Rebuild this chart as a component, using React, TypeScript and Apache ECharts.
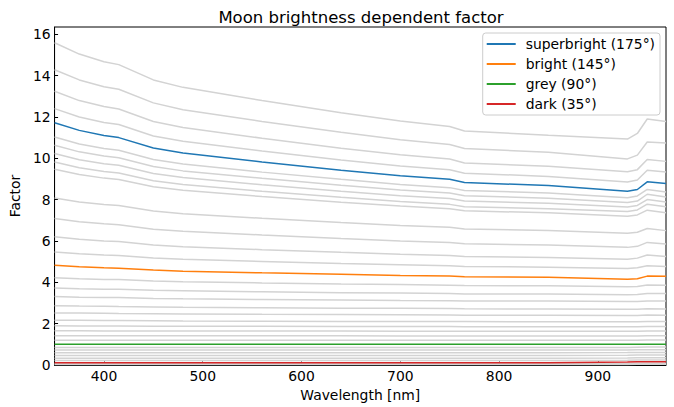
import React, { useEffect, useRef } from "react";
import * as echarts from "echarts";

// Wavelength grid (nm) shared by every curve
const wavelengths = [350, 375, 400, 415, 450, 480, 560, 640, 700, 750, 765, 850, 930, 940, 950, 969];

// Highlighted curves
const superbright = [11.72, 11.35, 11.10, 11.00, 10.50, 10.25, 9.82, 9.42, 9.15, 8.98, 8.83, 8.68, 8.41, 8.49, 8.86, 8.78];
const bright = [4.82, 4.75, 4.70, 4.68, 4.59, 4.54, 4.46, 4.39, 4.33, 4.30, 4.27, 4.25, 4.15, 4.17, 4.30, 4.29];
const grey = [1.00, 1.00, 1.00, 1.00, 1.00, 1.00, 1.00, 1.00, 1.00, 1.00, 1.00, 1.00, 1.00, 1.00, 1.00, 1.00];
const dark = [0.11, 0.11, 0.11, 0.11, 0.11, 0.11, 0.11, 0.11, 0.11, 0.11, 0.11, 0.11, 0.14, 0.16, 0.16, 0.16];

// Background (other angles) curves
const g01 = [15.59, 15.04, 14.67, 14.53, 13.79, 13.43, 12.79, 12.20, 11.80, 11.54, 11.32, 11.11, 10.93, 11.20, 11.90, 11.78];
const g02 = [14.28, 13.79, 13.46, 13.34, 12.68, 12.35, 11.78, 11.26, 10.90, 10.67, 10.47, 10.29, 9.97, 10.15, 10.79, 10.74];
const g03 = [13.24, 12.79, 12.50, 12.38, 11.78, 11.49, 10.97, 10.49, 10.17, 9.96, 9.77, 9.61, 9.35, 9.45, 9.94, 9.85];
const g04 = [12.40, 12.00, 11.73, 11.63, 11.08, 10.82, 10.35, 9.92, 9.63, 9.44, 9.28, 9.12, 8.85, 8.95, 9.42, 9.34];
const g05 = [11.03, 10.69, 10.47, 10.39, 9.94, 9.72, 9.33, 8.98, 8.73, 8.58, 8.44, 8.32, 8.09, 8.18, 8.49, 8.37];
const g06 = [10.63, 10.31, 10.11, 10.03, 9.60, 9.39, 9.03, 8.69, 8.46, 8.32, 8.19, 8.07, 7.86, 7.93, 8.26, 8.13];
const g07 = [10.23, 9.93, 9.74, 9.66, 9.26, 9.07, 8.72, 8.40, 8.19, 8.05, 7.93, 7.82, 7.64, 7.72, 8.00, 7.89];
const g08 = [9.82, 9.54, 9.36, 9.29, 8.91, 8.73, 8.40, 8.11, 7.91, 7.77, 7.66, 7.56, 7.42, 7.50, 7.78, 7.65];
const g09 = [9.47, 9.21, 9.04, 8.97, 8.62, 8.45, 8.15, 7.87, 7.69, 7.56, 7.46, 7.36, 7.19, 7.26, 7.49, 7.36];
const g10 = [8.08, 7.89, 7.76, 7.71, 7.45, 7.32, 7.10, 6.89, 6.75, 6.66, 6.58, 6.51, 6.37, 6.42, 6.60, 6.50];
const g11 = [7.09, 6.93, 6.83, 6.79, 6.57, 6.47, 6.29, 6.12, 6.00, 5.93, 5.86, 5.80, 5.69, 5.74, 5.93, 5.85];
const g12 = [6.20, 6.08, 6.00, 5.97, 5.80, 5.72, 5.58, 5.45, 5.36, 5.30, 5.25, 5.20, 5.12, 5.17, 5.32, 5.25];
const g13 = [5.47, 5.38, 5.32, 5.30, 5.17, 5.11, 5.01, 4.91, 4.85, 4.80, 4.77, 4.73, 4.67, 4.70, 4.80, 4.76];
const g14 = [4.22, 4.17, 4.14, 4.13, 4.06, 4.03, 3.97, 3.92, 3.89, 3.86, 3.84, 3.83, 3.79, 3.80, 3.87, 3.86];
const g15 = [3.73, 3.69, 3.67, 3.66, 3.61, 3.59, 3.54, 3.50, 3.48, 3.46, 3.44, 3.43, 3.40, 3.41, 3.46, 3.46];
const g16 = [3.31, 3.28, 3.26, 3.26, 3.22, 3.20, 3.17, 3.14, 3.12, 3.11, 3.10, 3.09, 3.07, 3.07, 3.10, 3.09];
const g17 = [2.87, 2.85, 2.84, 2.83, 2.81, 2.79, 2.77, 2.75, 2.74, 2.73, 2.72, 2.71, 2.70, 2.70, 2.72, 2.71];
const g18 = [2.52, 2.51, 2.50, 2.49, 2.48, 2.47, 2.45, 2.44, 2.43, 2.42, 2.41, 2.41, 2.40, 2.40, 2.42, 2.41];
const g19 = [2.17, 2.16, 2.15, 2.15, 2.14, 2.13, 2.12, 2.11, 2.11, 2.10, 2.10, 2.09, 2.09, 2.09, 2.11, 2.10];
const g20 = [1.90, 1.89, 1.89, 1.89, 1.88, 1.88, 1.87, 1.86, 1.86, 1.86, 1.85, 1.85, 1.85, 1.85, 1.86, 1.86];
const g21 = [1.66, 1.66, 1.65, 1.65, 1.65, 1.65, 1.64, 1.64, 1.63, 1.63, 1.63, 1.63, 1.63, 1.63, 1.64, 1.64];
const g22 = [1.42, 1.42, 1.42, 1.42, 1.41, 1.41, 1.41, 1.41, 1.40, 1.40, 1.40, 1.40, 1.40, 1.40, 1.41, 1.41];
const g23 = [1.20, 1.20, 1.20, 1.20, 1.20, 1.20, 1.20, 1.20, 1.20, 1.20, 1.20, 1.20, 1.20, 1.20, 1.21, 1.21];
const g24 = [0.85, 0.85, 0.85, 0.85, 0.85, 0.85, 0.85, 0.85, 0.85, 0.85, 0.85, 0.85, 0.85, 0.86, 0.87, 0.87];
const g25 = [0.72, 0.72, 0.72, 0.72, 0.72, 0.72, 0.72, 0.72, 0.72, 0.72, 0.72, 0.72, 0.73, 0.74, 0.74, 0.74];
const g26 = [0.59, 0.59, 0.59, 0.59, 0.59, 0.59, 0.59, 0.59, 0.59, 0.59, 0.59, 0.59, 0.60, 0.61, 0.61, 0.61];
const g27 = [0.46, 0.46, 0.46, 0.46, 0.46, 0.46, 0.46, 0.46, 0.46, 0.46, 0.46, 0.46, 0.47, 0.48, 0.48, 0.48];
const g28 = [0.33, 0.33, 0.33, 0.33, 0.33, 0.33, 0.33, 0.33, 0.33, 0.33, 0.33, 0.33, 0.34, 0.35, 0.35, 0.35];
const g29 = [0.22, 0.22, 0.22, 0.22, 0.22, 0.22, 0.22, 0.22, 0.22, 0.22, 0.22, 0.22, 0.23, 0.24, 0.24, 0.24];
const g30 = [0.06, 0.06, 0.06, 0.06, 0.06, 0.06, 0.06, 0.06, 0.06, 0.06, 0.06, 0.06, 0.07, 0.08, 0.08, 0.08];
const g31 = [0.03, 0.03, 0.03, 0.03, 0.03, 0.03, 0.03, 0.03, 0.03, 0.03, 0.03, 0.03, 0.03, 0.04, 0.04, 0.04];

const greyLines = [g01, g02, g03, g04, g05, g06, g07, g08, g09, g10, g11, g12, g13, g14, g15, g16,
  g17, g18, g19, g20, g21, g22, g23, g24, g25, g26, g27, g28, g29, g30, g31];

const highlightNames = ["superbright (175°)", "bright (145°)", "grey (90°)", "dark (35°)"];
const highlightValues = [superbright, bright, grey, dark];
const highlightColors = ["#1f77b4", "#ff7f0e", "#2ca02c", "#d62728"];

const xTicks = [400, 500, 600, 700, 800, 900];
const yTicks = [0, 2, 4, 6, 8, 10, 12, 14, 16];

const FONT = "DejaVu Sans";

export default function App() {
  const ref = useRef<HTMLDivElement>(null);

  useEffect(() => {
    const chart = echarts.init(ref.current!, null, { renderer: "svg" });
    const toPts = (vals: number[]) => wavelengths.map((w, i) => [w, vals[i]]);

    const greySeries = greyLines.map((vals, i) => ({
      type: "line",
      name: "other" + i,
      data: toPts(vals),
      symbol: "none",
      silent: true,
      z: 1,
      lineStyle: { color: "#d3d3d3", width: 1.5 },
    }));
    const colorSeries = highlightValues.map((vals, i) => ({
      type: "line",
      name: highlightNames[i],
      data: toPts(vals),
      symbol: "none",
      z: 2,
      color: highlightColors[i],
      lineStyle: { color: highlightColors[i], width: 1.5 },
    }));

    chart.setOption({
      animation: false,
      backgroundColor: "#ffffff",
      title: {
        text: "Moon brightness dependent factor",
        left: 356,
        top: 4,
        textAlign: "center",
        textStyle: { fontFamily: FONT, fontSize: 16.5, fontWeight: "normal", color: "#000" },
      },
      legend: {
        data: highlightNames.map((n) => ({ name: n, icon: "rect" })),
        orient: "vertical",
        right: 14,
        top: 33,
        padding: [1, 5, 1, 4],
        itemGap: 0,
        itemWidth: 29,
        itemHeight: 2,
        backgroundColor: "rgba(255,255,255,0.8)",
        borderColor: "#cccccc",
        borderWidth: 1,
        borderRadius: 3,
        textStyle: { fontFamily: FONT, fontSize: 13.9, color: "#000", lineHeight: 20, padding: [0, 0, 0, 5] },
      },
      grid: {
        left: 46,
        right: 8,
        top: 27,
        bottom: 42,
        show: true,
        borderColor: "#000",
        borderWidth: 1,
        backgroundColor: "transparent",
      },
      xAxis: {
        type: "value",
        min: 350,
        max: 969,
        name: "Wavelength [nm]",
        nameLocation: "middle",
        nameGap: 20,
        nameTextStyle: { fontFamily: FONT, fontSize: 13.9, color: "#000" },
        axisLine: { show: true, onZero: false, lineStyle: { color: "#000", width: 1 } },
        axisTick: { show: true, inside: true, length: 3.5, customValues: xTicks, lineStyle: { color: "#000" } },
        axisLabel: { customValues: xTicks, margin: 4, fontFamily: FONT, fontSize: 13.9, color: "#000" },
        splitLine: { show: false },
      },
      yAxis: {
        type: "value",
        min: 0,
        max: 16.35,
        name: "Factor",
        nameLocation: "middle",
        nameGap: 26,
        nameRotate: 90,
        nameTextStyle: { fontFamily: FONT, fontSize: 13.9, color: "#000" },
        axisLine: { show: true, onZero: false, lineStyle: { color: "#000", width: 1 } },
        axisTick: { show: true, inside: true, length: 3.5, customValues: yTicks, lineStyle: { color: "#000" } },
        axisLabel: { customValues: yTicks, margin: 4, fontFamily: FONT, fontSize: 13.9, color: "#000" },
        splitLine: { show: false },
      },
      series: [...greySeries, ...colorSeries],
    });

    return () => chart.dispose();
  }, []);

  return (
    <div
      ref={ref}
      style={{ position: "fixed", left: 0, top: 0, width: 674, height: 407 }}
    />
  );
}
